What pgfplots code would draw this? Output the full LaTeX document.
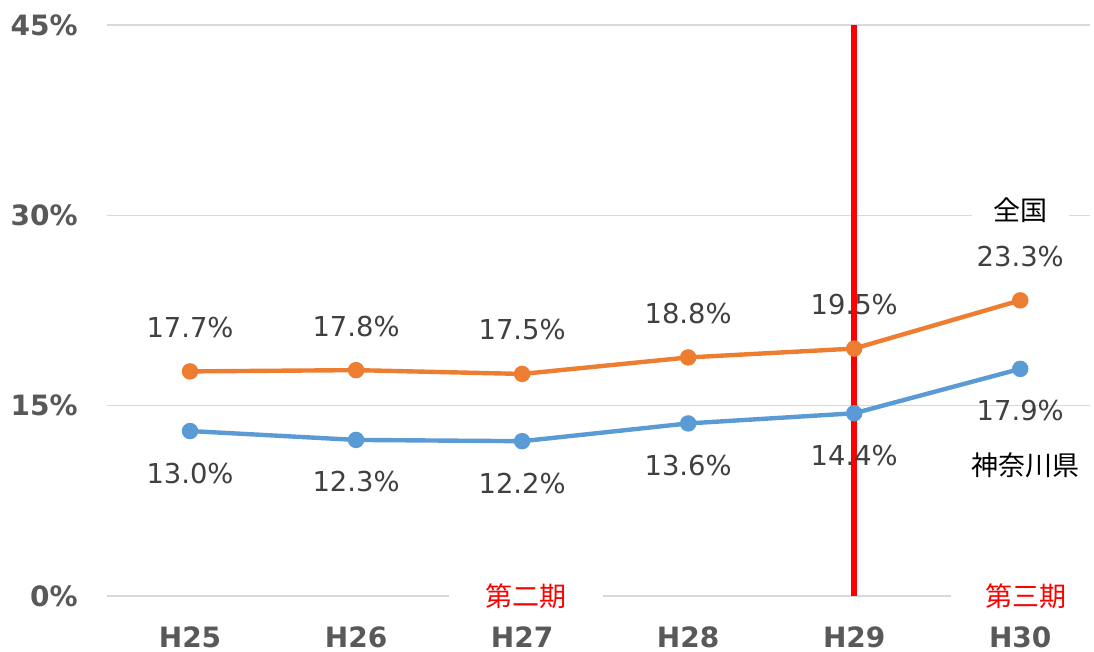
\documentclass[border=0pt]{standalone}
\usepackage{pgfplots}
\pgfplotsset{compat=1.18}
\usepackage{fontspec}
\setmainfont{DejaVu Sans}
\newfontfamily\cjk{Noto Sans CJK JP}
\definecolor{orng}{HTML}{ED7D31}
\definecolor{blu}{HTML}{5B9BD5}
\definecolor{tickc}{HTML}{595959}
\definecolor{lbl}{HTML}{404040}
\definecolor{grd}{HTML}{D9D9D9}
\begin{document}
\begin{tikzpicture}
\useasboundingbox (-53.5pt,-28pt) rectangle (493.5pt,298pt);
\begin{axis}[
  at={(0,0)}, anchor=south west,
  scale only axis, width=491.5pt, height=285.5pt,
  xmin=-0.5, xmax=5.42, ymin=0, ymax=45,
  axis line style={draw=none},
  major tick length=0pt,
  ytick={0,15,30,45},
  ymajorgrids, grid style={grd, line width=0.8pt},
  xtick={0,1,2,3,4,5},
  xticklabels={H25,H26,H27,H28,H29,H30},
  /pgf/number format/assume math mode=true,
  yticklabel={\pgfmathprintnumber{\tick}\%},
  yticklabel style={anchor=east, inner sep=0pt, xshift=-14.5pt, font=\bfseries\fontsize{14}{16}\selectfont, text=tickc},
  xticklabel style={anchor=center, inner sep=0pt, yshift=-20.5pt, font=\bfseries\fontsize{14}{16}\selectfont, text=tickc},
  clip=false,
]
\addplot[orng, line width=2.2pt, mark=*, mark size=3pt, mark options={fill=orng, draw=orng},
  nodes near coords={\pgfmathprintnumber[fixed,fixed zerofill,precision=1]{\pgfplotspointmeta}\%},
  every node near coord/.append style={anchor=center, yshift=22pt, text=lbl, font=\fontsize{13.7}{16}\selectfont}]
  coordinates {(0,17.7) (1,17.8) (2,17.5) (3,18.8) (4,19.5) (5,23.3)};
\addplot[blu, line width=2.2pt, mark=*, mark size=3pt, mark options={fill=blu, draw=blu},
  nodes near coords={\pgfmathprintnumber[fixed,fixed zerofill,precision=1]{\pgfplotspointmeta}\%},
  every node near coord/.append style={anchor=center, yshift=-21pt, text=lbl, font=\fontsize{13.7}{16}\selectfont}]
  coordinates {(0,13.0) (1,12.3) (2,12.2) (3,13.6) (4,14.4) (5,17.9)};
\node[fill=white, text=red, font=\cjk\fontsize{13.5}{16}\selectfont, minimum width=77pt, inner ysep=1pt] at (axis cs:2.024,0) {第二期};
\node[fill=white, text=red, font=\cjk\fontsize{13.5}{16}\selectfont, minimum width=75pt, inner ysep=1pt] at (axis cs:5.036,0) {第三期};
\node[fill=white, text=black, font=\cjk\fontsize{13.5}{16}\selectfont, minimum width=48.5pt, inner ysep=1pt] at (axis cs:5.0,30.4) {全国};
\node[text=black, font=\cjk\fontsize{13.5}{16}\selectfont] at (axis cs:5.03,10.3) {神奈川県};
\addplot[red, line width=3pt, no marks] coordinates {(4,0) (4,45)};
\end{axis}
\end{tikzpicture}
\end{document}
